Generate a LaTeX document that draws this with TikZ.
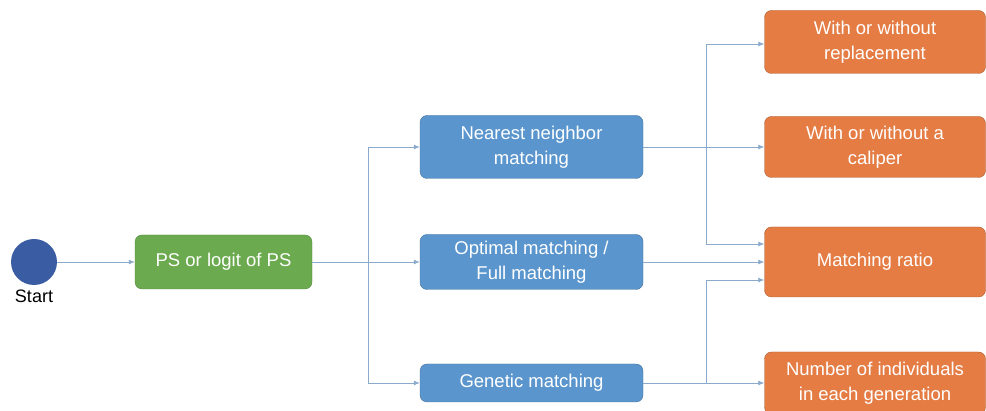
\documentclass[tikz,border=0pt]{standalone}
\usepackage{fontspec}
\setmainfont{Liberation Sans}
\usetikzlibrary{arrows.meta}
\definecolor{startblue}{HTML}{3A5CA2}
\definecolor{psgreen}{HTML}{6BAA4E}
\definecolor{methblue}{HTML}{5A96CD}
\definecolor{optorange}{HTML}{E47C44}
\definecolor{linkblue}{HTML}{8CABCC}

\begin{document}
\begin{tikzpicture}[x=1pt,y=-1pt,
  box/.style={rounded corners=7pt, text=white, align=center, inner sep=0pt,
    font=\fontsize{18.5}{25}\selectfont},
  method/.style={box, fill=methblue, draw=methblue!75!black, minimum width=223pt},
  option/.style={box, fill=optorange, draw=optorange!75!black, minimum width=221pt},
  link/.style={draw=linkblue, line width=0.8pt, -{Latex[length=6pt,width=5pt]}}]
\useasboundingbox (0,0) rectangle (986,411);
% start and propensity score
\node[circle, fill=startblue, minimum size=46pt, inner sep=0pt] (start) at (34,262) {};
\node[anchor=north, font=\fontsize{18}{22}\selectfont, inner sep=0pt] (startlbl) at (34,290) {Start};
\node[box, fill=psgreen, draw=psgreen!80!black, minimum width=177pt, minimum height=54pt] (ps) at (223.5,262) {PS or logit of PS};
% matching methods
\node[method, minimum height=63pt] (nearest) at (531.5,147) {Nearest neighbor\\matching};
\node[method, minimum height=55pt] (optimal) at (531.5,262) {Optimal matching /\\Full matching};
\node[method, minimum height=38pt] (genetic) at (531.5,383) {Genetic matching};
% options
\node[option, minimum height=63pt] (replace) at (875,42) {With or without\\replacement};
\node[option, minimum height=61pt] (caliper) at (875,147) {With or without a\\caliper};
\node[option, minimum height=70pt] (ratio) at (875,262) {Matching ratio};
\node[option, minimum height=62pt] (individ) at (875,383) {Number of individuals\\in each generation};
\coordinate (split) at (368,262);
\coordinate (nsplit) at (706,147);
\coordinate (gsplit) at (706,383);

\draw[link] (start) -- (ps);
\draw[link] (ps) -- (optimal);
\draw[link] (split) |- (nearest);
\draw[link] (split) |- (genetic);
\draw[link] (nearest) -- (caliper);
\draw[link] (nsplit) |- (replace.west |- 0,44);
\draw[link] (nsplit) |- ([yshift=18pt]ratio.west);
\draw[link] (optimal) -- (ratio);
\draw[link] (genetic) -- (individ);
\draw[link] (gsplit) |- ([yshift=-18pt]ratio.west);
\end{tikzpicture}
\end{document}
